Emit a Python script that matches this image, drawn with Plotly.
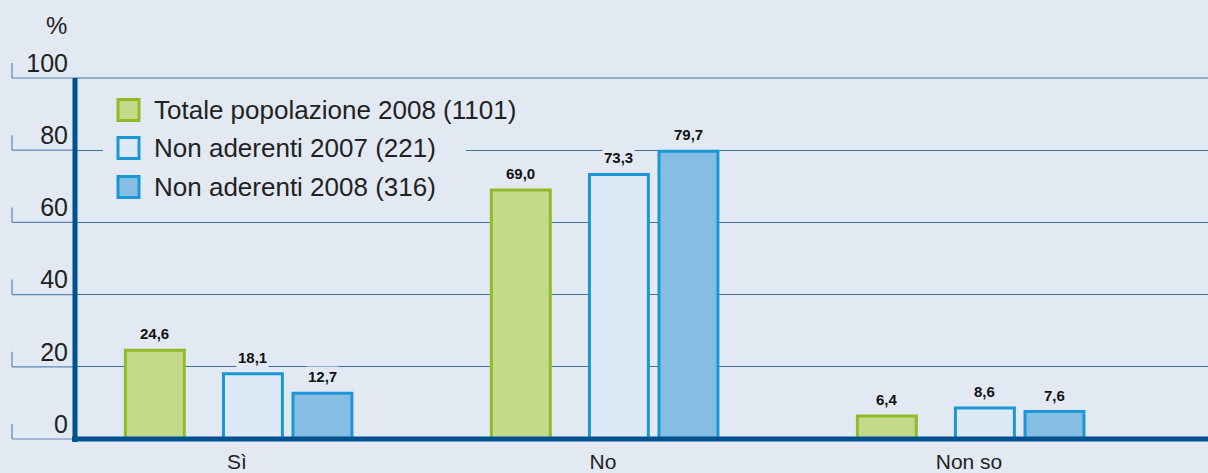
import plotly.graph_objects as go

categories = ["Sì", "No", "Non so"]
series_names = ["Totale popolazione 2008 (1101)", "Non aderenti 2007 (221)", "Non aderenti 2008 (316)"]
totale_2008 = [24.6, 69.0, 6.4]
non_aderenti_2007 = [18.1, 73.3, 8.6]
non_aderenti_2008 = [12.7, 79.7, 7.6]
y_ticks = [0, 20, 40, 60, 80, 100]

W, H = 1208, 473
ML, MR, MT, MB = 75, 0, 78, 34
PW, PH = W - ML - MR, H - MT - MB
Y_MIN, Y_MAX = 0, 100
X_RANGE = [-0.4426, 2.653]

BG = "#e3e9f3"
AXIS = "#00528f"
GRID = "#3f72a3"
TICKL = "#5a88b8"
fills = ["#c5d98a", "#dde9f6", "#86bde3"]
borders = ["#8fbb2a", "#1b97d6", "#1b97d6"]
offsets = [-0.305, -0.037, 0.153]
BAR_W = 0.161

series = [totale_2008, non_aderenti_2007, non_aderenti_2008]

def px_x(p):
    return (p - ML) / PW

def px_y(p):
    return (H - MB - p) / PH

def val_y(v):
    return (v - Y_MIN) / (Y_MAX - Y_MIN)

fig = go.Figure()
for name, vals, f, b, off in zip(series_names, series, fills, borders, offsets):
    fig.add_trace(go.Bar(
        x=categories, y=vals, name=name, offset=off, width=BAR_W,
        marker=dict(color=f, line=dict(color=b, width=3)),
        showlegend=False,
    ))

annotations = []
# data labels
for vals, off in zip(series, offsets):
    for i, v in enumerate(vals):
        annotations.append(dict(
            x=i + off + BAR_W / 2, y=v, xref="x", yref="y",
            text=f"{v:.1f}".replace(".", ","), showarrow=False,
            xanchor="center", yanchor="bottom", yshift=6,
            font=dict(family="Liberation Sans Narrow, Arial Narrow, Liberation Sans", size=15, color="#111", weight="bold"),
            bgcolor=BG, borderpad=1,
        ))

# percent sign
annotations.append(dict(x=px_x(56), y=px_y(25), xref="paper", yref="paper", text="%",
                        xanchor="center", yanchor="middle",
                        showarrow=False, font=dict(family="Liberation Sans", size=24, color="#222")))

shapes = []
# top gridline (at the range edge)
shapes.append(dict(type="line", xref="paper", yref="paper", x0=0, x1=1,
                   y0=val_y(Y_MAX), y1=val_y(Y_MAX), line=dict(color=GRID, width=1), layer="between"))
# legend background
shapes.append(dict(type="rect", xref="paper", yref="paper", x0=px_x(103), x1=px_x(466),
                   y0=px_y(205), y1=px_y(92), fillcolor=BG, line=dict(width=0), layer="above"))
row_y = [110, 148, 187]
for name, f, b, ry in zip(series_names, fills, borders, row_y):
    shapes.append(dict(type="rect", xref="paper", yref="paper", x0=px_x(118), x1=px_x(139),
                       y0=px_y(ry + 10.5), y1=px_y(ry - 10.5), fillcolor=f,
                       line=dict(color=b, width=3), layer="above"))
    annotations.append(dict(x=px_x(152), y=px_y(ry), xref="paper", yref="paper", text=name,
                            xanchor="left", yanchor="middle", showarrow=False,
                            font=dict(family="Liberation Sans", size=26, color="#222")))

# L tick marks on left
for t in y_ticks:
    shapes.append(dict(type="line", xref="paper", yref="paper", x0=px_x(12), x1=0,
                       y0=val_y(t), y1=val_y(t), line=dict(color=TICKL, width=1.2)))
    shapes.append(dict(type="line", xref="paper", yref="paper", x0=px_x(12), x1=px_x(12),
                       y0=val_y(t), y1=val_y(t) + 15 / PH, line=dict(color=TICKL, width=1.2)))

# axis lines
shapes.append(dict(type="line", xref="paper", yref="paper", x0=0, x1=0, y0=-3 / PH, y1=1,
                   line=dict(color=AXIS, width=5), layer="above"))
shapes.append(dict(type="line", xref="paper", yref="paper", x0=px_x(72), x1=1, y0=0, y1=0,
                   line=dict(color=AXIS, width=5), layer="above"))

fig.update_layout(
    width=W, height=H,
    margin=dict(l=ML, r=MR, t=MT, b=MB),
    paper_bgcolor=BG, plot_bgcolor=BG,
    barmode="overlay",
    annotations=annotations, shapes=shapes,
    xaxis=dict(range=X_RANGE, showgrid=False, zeroline=False, showline=False, ticks="",
               tickfont=dict(family="Liberation Sans", size=21, color="#222"),
               ticklabelstandoff=8),
    yaxis=dict(range=[Y_MIN, Y_MAX], tickvals=y_ticks, showgrid=True, gridcolor=GRID, gridwidth=1,
               zeroline=False, showline=False, ticks="",
               tickfont=dict(family="Liberation Sans", size=25, color="#222"),
               ticklabelstandoff=6, ticklabelshift=-15),
    font=dict(family="Liberation Sans"),
)

fig.write_html("out.html", config={"displayModeBar": False})

# remove the default page margin so the figure fills the window exactly
with open("out.html", "r", encoding="utf-8") as fh:
    html = fh.read()
html = html.replace("<head>", "<head><style>html,body{margin:0;padding:0;overflow:hidden;}</style>", 1)
with open("out.html", "w", encoding="utf-8") as fh:
    fh.write(html)
